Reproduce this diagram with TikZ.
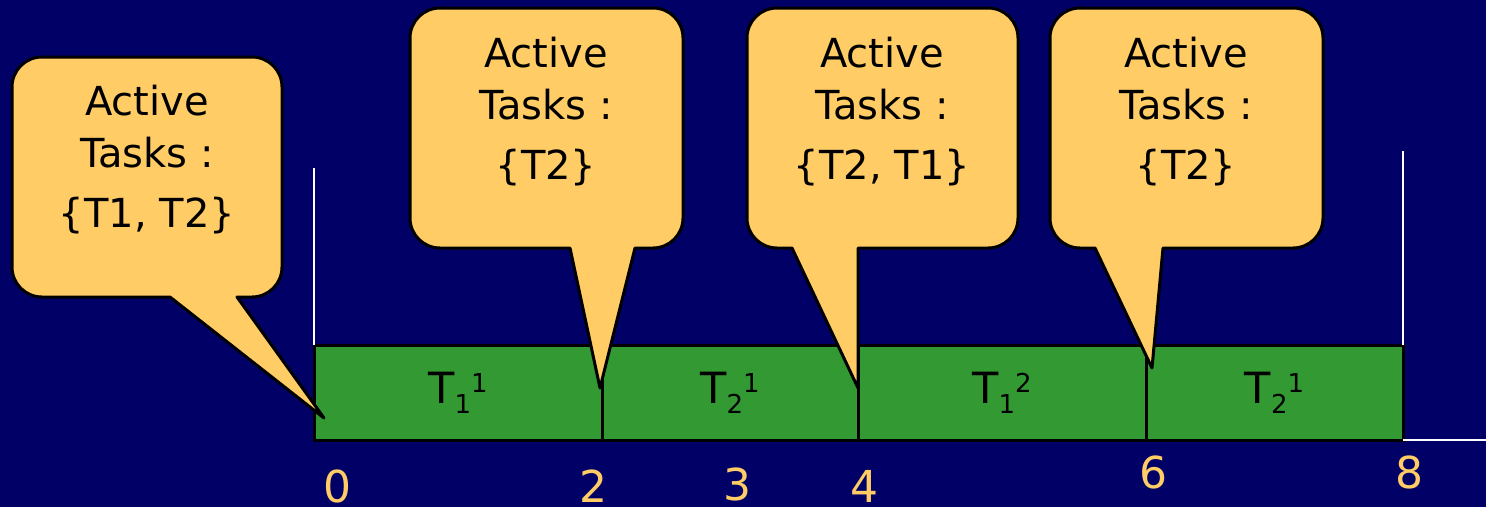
\documentclass[tikz,border=0pt]{standalone}
\usepackage{fontspec}
\setmainfont{DejaVu Sans}
\definecolor{navy}{HTML}{000066}
\definecolor{bubblefill}{HTML}{FFCC66}
\definecolor{bargreen}{HTML}{339933}
% #1 L, #2 R, #3 T, #4 B, #5 tail left, #6 tail right, #7 tip x, #8 tip y
\newcommand\bubblepath[8]{%
  \draw[bubble] (#5,#4) -- (#7,#8) -- (#6,#4) -- ({#2-30},#4)
    .. controls ({#2-13.4},#4) and (#2,{#4-13.4}) .. (#2,{#4-30})
    -- (#2,{#3+30})
    .. controls (#2,{#3+13.4}) and ({#2-13.4},#3) .. ({#2-30},#3)
    -- ({#1+30},#3)
    .. controls ({#1+13.4},#3) and (#1,{#3+13.4}) .. (#1,{#3+30})
    -- (#1,{#4-30})
    .. controls (#1,{#4-13.4}) and ({#1+13.4},#4) .. ({#1+30},#4)
    -- cycle;}
\newcommand\tasklab[2]{T\raisebox{-10pt}{\fontsize{26}{26}\selectfont #1}\raisebox{11pt}{\fontsize{26}{26}\selectfont #2}}
\begin{document}
\begin{tikzpicture}[x=1pt,y=-1pt,
  bubble/.style={fill=bubblefill,draw=black,line width=3pt,line join=round},
  seg/.style={fill=bargreen,draw=black,line width=3pt,minimum height=95pt,inner sep=0pt,outer sep=0pt,font=\fontsize{43}{43}\selectfont},
  tick/.style={text=bubblefill,font=\fontsize{44}{44}\selectfont,anchor=base,inner sep=0pt},
  axisline/.style={white,line width=2pt},
  btext/.style={align=center,font=\fontsize{40}{52}\selectfont,inner sep=0pt}]
\fill[navy] (0,0) rectangle (1486,507);
\useasboundingbox (0,0) rectangle (1486,507);
% white axis lines
\coordinate (ltop) at (314,168);
\coordinate (rtop) at (1403,151);
\coordinate (rend) at (1486,440);
% schedule bar
\node[seg,minimum width=288pt] (s1) at (458,392.5) {\tasklab{1}{1}};
\node[seg,minimum width=256pt] (s2) at (730,392.5) {\tasklab{2}{1}};
\node[seg,minimum width=288pt] (s3) at (1002,392.5) {\tasklab{1}{2}};
\node[seg,minimum width=257pt] (s4) at (1274.5,392.5) {\tasklab{2}{1}};
\draw[axisline] (ltop) -- (s1.north west);
\draw[axisline] (rtop) -- (s4.north east);
\draw[axisline] (s4.south east) -- (rend);
% ticks
\node[tick] (n0) at (337,502) {0};
\node[tick] (n2) at (593,502) {2};
\node[tick] (n3) at (737,500) {3};
\node[tick] (n4) at (864,502) {4};
\node[tick] (n6) at (1153,488) {6};
\node[tick] (n8) at (1409,488) {8};
% callouts
\bubblepath{12}{282}{57}{297}{170}{237}{324}{418}
\bubblepath{410}{683}{8}{248}{570}{635}{600}{388}
\bubblepath{747}{1018}{8}{248}{792}{858}{858}{388}
\bubblepath{1050}{1323}{8}{248}{1095}{1163}{1152}{368}
\node[btext] (b1) at (147,160) {Active\\Tasks :\\[8pt]\{T1, T2\}};
\node[btext] (b2) at (546,112) {Active\\Tasks :\\[8pt]\{T2\}};
\node[btext] (b3) at (882,112) {Active\\Tasks :\\[8pt]\{T2, T1\}};
\node[btext] (b4) at (1186,112) {Active\\Tasks :\\[8pt]\{T2\}};
\end{tikzpicture}
\end{document}
